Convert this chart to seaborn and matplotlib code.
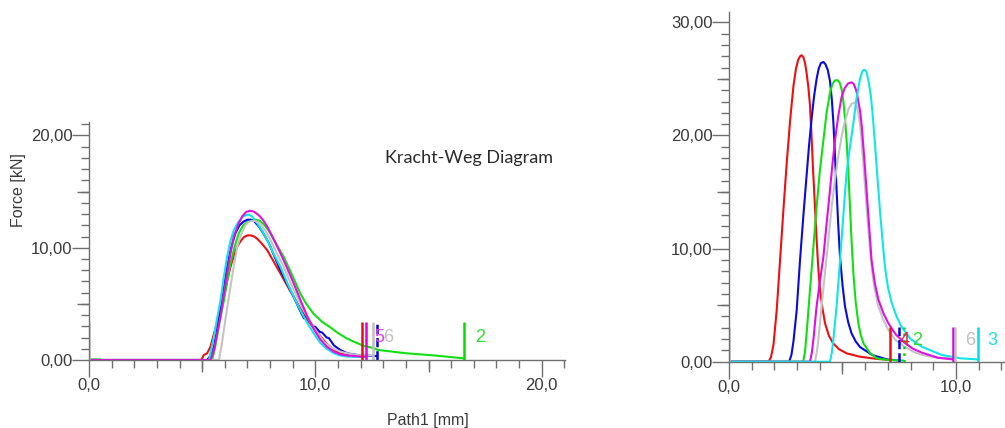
import matplotlib
matplotlib.use("Agg")
import matplotlib.pyplot as plt
import seaborn as sns
import pandas as pd
from matplotlib.ticker import MultipleLocator, FuncFormatter

# ---------------- data: left panel (Kracht-Weg Diagram) ----------------
red_L_x = [0, 4.96, 5.07, 5.22, 5.37, 5.5, 5.66, 5.8, 5.96, 6.1, 6.25, 6.4, 6.55, 6.7, 6.85, 7.0, 7.14, 7.3, 7.43, 7.6, 7.87, 8.15, 8.46, 8.75, 9.05, 9.35, 9.64, 9.95, 10.23, 10.5, 10.82, 11.1, 11.41, 11.92, 12.07]
red_L_y = [0, 0, 0.44, 0.6, 1.2, 2.2, 3.3, 4.4, 5.6, 7.0, 8.3, 9.3, 10.1, 10.6, 10.95, 11.1, 11.1, 11.0, 10.8, 10.45, 9.8, 8.8, 7.7, 6.65, 5.6, 4.55, 3.6, 2.8, 2.1, 1.45, 0.9, 0.6, 0.44, 0.36, 0.35]
green_L_x = [0, 0.5, 0.55, 5.44, 5.55, 5.66, 5.8, 5.96, 6.1, 6.25, 6.45, 6.62, 6.8, 6.99, 7.15, 7.36, 7.55, 7.72, 7.95, 8.17, 8.4, 8.6, 8.9, 9.1, 9.34, 9.6, 9.93, 10.3, 10.67, 11.0, 11.41, 11.8, 12.14, 12.6, 12.75, 14.0, 15.3, 16.55]
green_L_y = [0.05, 0.05, 0, 0, 0.9, 2.1, 3.7, 5.3, 7.0, 8.6, 10.2, 11.3, 11.95, 12.3, 12.45, 12.5, 12.4, 12.1, 11.5, 10.7, 9.9, 9.2, 7.9, 7.0, 5.9, 5.0, 4.1, 3.4, 2.9, 2.4, 1.9, 1.55, 1.25, 1.05, 0.9, 0.6, 0.4, 0.15]
blue_L_x = [0, 5.22, 5.37, 5.52, 5.65, 5.81, 5.95, 6.1, 6.28, 6.47, 6.65, 6.84, 7.0, 7.14, 7.3, 7.5, 7.7, 7.95, 8.2, 8.46, 8.75, 9.05, 9.3, 9.5, 9.58, 9.75, 9.9, 10.0, 10.2, 10.3, 10.5, 10.6, 10.82, 11.1, 11.41, 12.0, 12.73]
blue_L_y = [0, 0, 0.4, 1.2, 2.6, 4.4, 6.3, 8.3, 10.0, 11.3, 12.0, 12.35, 12.5, 12.5, 12.35, 11.9, 11.3, 10.4, 9.2, 8.0, 6.8, 5.6, 4.5, 3.7, 4.0, 3.4, 3.0, 2.95, 2.5, 2.45, 2.0, 1.95, 1.3, 0.9, 0.6, 0.4, 0.35]
cyan_L_x = [0, 5.3, 5.4, 5.52, 5.65, 5.81, 5.95, 6.1, 6.25, 6.4, 6.6, 6.77, 6.92, 7.06, 7.2, 7.43, 7.65, 7.87, 8.15, 8.46, 8.75, 9.05, 9.35, 9.64, 9.95, 10.23, 10.5, 10.82, 11.1, 11.41, 12.15]
cyan_L_y = [0, 0, 0.9, 2.1, 3.6, 5.3, 7.3, 9.2, 10.6, 11.6, 12.3, 12.7, 12.9, 12.95, 12.8, 12.2, 11.5, 10.7, 9.5, 8.3, 6.9, 5.6, 4.4, 3.3, 2.3, 1.5, 1.0, 0.6, 0.4, 0.3, 0.25]
magenta_L_x = [0, 5.37, 5.52, 5.65, 5.81, 5.95, 6.1, 6.25, 6.4, 6.6, 6.77, 6.95, 7.14, 7.3, 7.5, 7.68, 7.87, 8.15, 8.46, 8.75, 9.05, 9.35, 9.64, 9.95, 10.23, 10.5, 10.82, 11.1, 11.41, 12.07, 12.26]
magenta_L_y = [0, 0, 0.9, 2.3, 3.9, 5.8, 7.7, 9.5, 11.0, 12.1, 12.8, 13.2, 13.3, 13.2, 12.9, 12.5, 11.9, 10.8, 9.5, 8.2, 6.8, 5.3, 3.9, 2.7, 1.8, 1.2, 0.74, 0.5, 0.4, 0.3, 0.3]
gray_L_x = [0, 5.74, 5.85, 5.96, 6.1, 6.25, 6.4, 6.55, 6.72, 6.91, 7.05, 7.21, 7.4, 7.58, 7.8, 8.02, 8.3, 8.6, 8.9, 9.2, 9.5, 9.79, 10.1, 10.38, 10.7, 11.11, 11.5, 11.85, 12.55]
gray_L_y = [0, 0, 1.2, 2.7, 4.6, 6.5, 8.4, 10.1, 11.2, 12.0, 12.3, 12.4, 12.35, 12.1, 11.5, 10.7, 9.5, 8.3, 6.9, 5.6, 4.4, 3.3, 2.4, 1.6, 1.1, 0.74, 0.55, 0.44, 0.4]

# end markers (left): position, colour, style
mark_L_x = [0.0, 12.05, 12.26, 12.55, 12.73, 16.55]
mark_L_c = ["#c8c8c8", "#e01010", "#e000e0", "#c0c0c0", "#0000e0", "#00e000"]
mark_L_s = ["-", "-", "-", "-", "--", "-"]
mark_L_top = 3.4
lab_L_text = ["5", "6", "2"]
lab_L_x = [12.84, 13.24, 17.3]
lab_L_c = ["#e040e0", "#c0c0c0", "#30dd30"]
lab_L_y = 2.0

# ---------------- data: right panel ----------------
red_R_x = [0, 1.74, 1.85, 1.96, 2.1, 2.25, 2.4, 2.54, 2.7, 2.84, 2.95, 3.05, 3.13, 3.2, 3.28, 3.35, 3.42, 3.5, 3.57, 3.64, 3.71, 3.79, 3.86, 3.93, 4.01, 4.12, 4.23, 4.4, 4.6, 4.85, 5.18, 5.77, 6.5, 7.1]
red_R_y = [0, 0, 0.4, 1.5, 4.5, 9.0, 13.5, 17.5, 21.5, 24.4, 25.9, 26.7, 27.0, 27.1, 26.9, 26.4, 25.5, 24.2, 22.6, 19.8, 16.7, 13.6, 10.8, 8.4, 6.35, 4.7, 3.4, 2.3, 1.6, 1.1, 0.74, 0.44, 0.25, 0.15]
blue_R_x = [0, 2.65, 2.75, 2.84, 2.98, 3.13, 3.28, 3.42, 3.53, 3.64, 3.75, 3.86, 3.95, 4.05, 4.16, 4.25, 4.35, 4.45, 4.53, 4.6, 4.67, 4.74, 4.81, 4.89, 5.0, 5.11, 5.25, 5.4, 5.58, 5.77, 6.3, 6.96, 7.51]
blue_R_y = [0, 0, 0.6, 1.8, 4.5, 9.0, 13.0, 16.5, 19.2, 21.5, 23.5, 25.0, 25.9, 26.4, 26.5, 26.3, 25.8, 24.8, 23.2, 21.1, 18.2, 15.2, 12.2, 9.3, 6.8, 4.9, 3.5, 2.5, 1.8, 1.3, 0.6, 0.2, 0.1]
green_R_x = [0, 3.27, 3.35, 3.42, 3.57, 3.72, 3.86, 4.0, 4.16, 4.3, 4.45, 4.55, 4.65, 4.77, 4.87, 4.96, 5.04, 5.11, 5.18, 5.26, 5.33, 5.4, 5.48, 5.58, 5.7, 5.8, 5.93, 6.2, 6.51, 7.0, 7.69]
green_R_y = [0, 0, 0.9, 2.5, 6.4, 10.2, 13.7, 16.8, 19.6, 22.0, 23.8, 24.5, 24.85, 24.9, 24.7, 24.1, 23.0, 21.5, 19.6, 16.8, 13.7, 10.7, 7.8, 5.3, 3.4, 2.4, 1.6, 0.8, 0.3, 0.15, 0.1]
gray_R_x = [0, 3.79, 3.88, 3.95, 4.08, 4.23, 4.38, 4.52, 4.67, 4.82, 4.96, 5.1, 5.26, 5.4, 5.48, 5.55, 5.63, 5.7, 5.78, 5.85, 5.96, 6.07, 6.18, 6.28, 6.42, 6.58, 6.8, 7.02, 7.35, 7.75, 8.1, 8.5, 9.2, 9.97]
gray_R_y = [0, 0, 1.0, 2.2, 4.9, 7.9, 10.8, 13.6, 16.1, 18.2, 19.9, 21.2, 22.3, 22.8, 22.9, 22.9, 22.6, 21.9, 20.9, 19.3, 16.4, 13.4, 10.8, 8.4, 6.4, 4.9, 3.7, 2.8, 1.9, 1.3, 0.9, 0.6, 0.35, 0.3]
magenta_R_x = [0, 3.57, 3.65, 3.72, 3.86, 4.0, 4.16, 4.3, 4.45, 4.56, 4.67, 4.82, 4.96, 5.1, 5.25, 5.4, 5.48, 5.55, 5.63, 5.7, 5.78, 5.85, 5.96, 6.07, 6.18, 6.28, 6.42, 6.58, 6.8, 7.02, 7.35, 7.75, 8.1, 8.5, 9.2, 9.87]
magenta_R_y = [0, 0, 0.8, 2.0, 4.9, 7.0, 9.3, 12.2, 15.2, 17.5, 19.6, 21.8, 23.4, 24.2, 24.6, 24.7, 24.6, 24.3, 23.8, 23.0, 22.1, 20.8, 18.0, 14.9, 11.8, 9.0, 7.0, 5.5, 4.3, 3.4, 2.4, 1.65, 1.15, 0.8, 0.35, 0.2]
cyan_R_x = [0, 4.45, 4.53, 4.6, 4.74, 4.85, 4.96, 5.07, 5.18, 5.33, 5.48, 5.62, 5.77, 5.86, 5.93, 5.99, 6.06, 6.14, 6.25, 6.34, 6.43, 6.54, 6.65, 6.76, 6.87, 7.0, 7.17, 7.38, 7.6, 8.0, 8.49, 9.37, 10.2, 10.97]
cyan_R_y = [0, 0, 0.8, 2.0, 4.9, 7.8, 10.8, 13.8, 16.7, 19.0, 21.1, 23.3, 25.0, 25.6, 25.8, 25.8, 25.6, 24.9, 23.5, 21.6, 19.3, 16.3, 13.4, 10.8, 8.4, 6.6, 5.2, 4.0, 3.1, 2.0, 1.33, 0.6, 0.3, 0.2]

mark_R_x = [0.0, 7.1, 7.51, 7.69, 9.87, 9.97, 10.97]
mark_R_c = ["#c8c8c8", "#ee1010", "#0000e0", "#00dd00", "#e000e0", "#c0c0c0", "#00e0e0"]
mark_R_s = ["-", "-", "--", ":", "-", "-", "-"]
mark_R_top = 3.1
lab_R_text = ["4", "2", "6", "3"]
lab_R_x = [7.72, 8.3, 10.62, 11.62]
lab_R_c = ["#e8203c", "#30dd30", "#c0c0c0", "#20e0e0"]
lab_R_y = 1.9

colors = {"red": "#ee1010", "green": "#10e010", "blue": "#0a0ae0",
          "cyan": "#10e6e6", "magenta": "#e010e0", "gray": "#c4c4c4"}


def frame(pairs):
    rows = []
    for name, xs, ys in pairs:
        rows.append(pd.DataFrame({"x": xs, "y": ys, "spec": name}))
    return pd.concat(rows, ignore_index=True)


df_L = frame([("red", red_L_x, red_L_y), ("green", green_L_x, green_L_y),
              ("blue", blue_L_x, blue_L_y), ("cyan", cyan_L_x, cyan_L_y),
              ("gray", gray_L_x, gray_L_y), ("magenta", magenta_L_x, magenta_L_y)])
df_R = frame([("red", red_R_x, red_R_y), ("blue", blue_R_x, blue_R_y),
              ("green", green_R_x, green_R_y), ("gray", gray_R_x, gray_R_y),
              ("magenta", magenta_R_x, magenta_R_y), ("cyan", cyan_R_x, cyan_R_y)])

sns.set_style("white")
plt.rcParams["font.family"] = ["Liberation Sans", "DejaVu Sans"]

fig = plt.figure(figsize=(10.05, 4.28), dpi=100)
axL = fig.add_axes([89 / 1005, 68 / 428, 476 / 1005, 238 / 428])
axR = fig.add_axes([729 / 1005, 66.3 / 428, 276 / 1005, 349.5 / 428])

axis_col = "#707070"
text_col = "#3a3a3a"

for ax, df, order, xmax, ymax in [
    (axL, df_L, ["red", "green", "blue", "cyan", "gray", "magenta"], 21.03, 21.2),
    (axR, df_R, ["red", "blue", "green", "gray", "magenta", "cyan"], 12.16, 30.9),
]:
    sns.lineplot(data=df, x="x", y="y", hue="spec", hue_order=order, palette=colors,
                 sort=False, estimator=None, legend=False, linewidth=1.5, ax=ax)
    ax.set_xlim(0, xmax)
    ax.set_ylim(0, ymax)
    ax.set_xlabel("")
    ax.set_ylabel("")
    for s in ["top", "right"]:
        ax.spines[s].set_visible(False)
    for s in ["left", "bottom"]:
        ax.spines[s].set_color(axis_col)
        ax.spines[s].set_linewidth(1.0)
    ax.xaxis.set_major_locator(MultipleLocator(10))
    ax.xaxis.set_minor_locator(MultipleLocator(1))
    ax.yaxis.set_major_locator(MultipleLocator(10))
    ax.yaxis.set_minor_locator(MultipleLocator(1))
    ax.xaxis.set_major_formatter(FuncFormatter(lambda v, p: f"{v:.1f}".replace(".", ",")))
    ax.yaxis.set_major_formatter(FuncFormatter(lambda v, p: f"{v:.2f}".replace(".", ",")))
    ax.tick_params(which="both", bottom=True, left=True, top=False, right=False)
    ax.tick_params(which="major", length=12, width=1.0, color=axis_col, labelcolor=text_col,
                   labelsize=12, pad=1, direction="out")
    ax.tick_params(which="minor", length=5.5, width=1.0, color=axis_col, direction="out")
    ax.tick_params(axis="y", which="major", pad=0)
    # medium ticks at the fives
    secx = ax.secondary_xaxis("bottom")
    secx.set_xticks([5, 15])
    secx.tick_params(bottom=True, length=8.5, width=1.0, color=axis_col, labelbottom=False)
    secx.spines["bottom"].set_visible(False)
    secy = ax.secondary_yaxis("left")
    secy.set_yticks([5, 15, 25])
    secy.tick_params(left=True, length=8.5, width=1.0, color=axis_col, labelleft=False)
    secy.spines["left"].set_visible(False)
    ax.set_facecolor("white")

axL.vlines(mark_L_x, 0, mark_L_top, colors=mark_L_c, linestyles=mark_L_s, linewidth=1.8)
axR.vlines(mark_R_x, 0, mark_R_top, colors=mark_R_c, linestyles=mark_R_s, linewidth=1.8)
for t, x, c in zip(lab_L_text, lab_L_x, lab_L_c):
    axL.text(x, lab_L_y, t, color=c, fontsize=13, ha="center", va="center")
for t, x, c in zip(lab_R_text, lab_R_x, lab_R_c):
    axR.text(x, lab_R_y, t, color=c, fontsize=13, ha="center", va="center")

fig.text(18 / 1005, 1 - 190 / 428, "Force [kN]", rotation=90, ha="center", va="center",
         fontsize=11.5, color=text_col)
fig.text(428 / 1005, 1 - 420 / 428, "Path1 [mm]", ha="center", va="center",
         fontsize=11.5, color=text_col)
fig.text(385 / 1005, 1 - 158 / 428, "Kracht-Weg Diagram", ha="left", va="center",
         fontsize=13, color="#2a2a2a", family=["Lato", "DejaVu Sans"])

fig.savefig("out.png", dpi=100, facecolor="white")
